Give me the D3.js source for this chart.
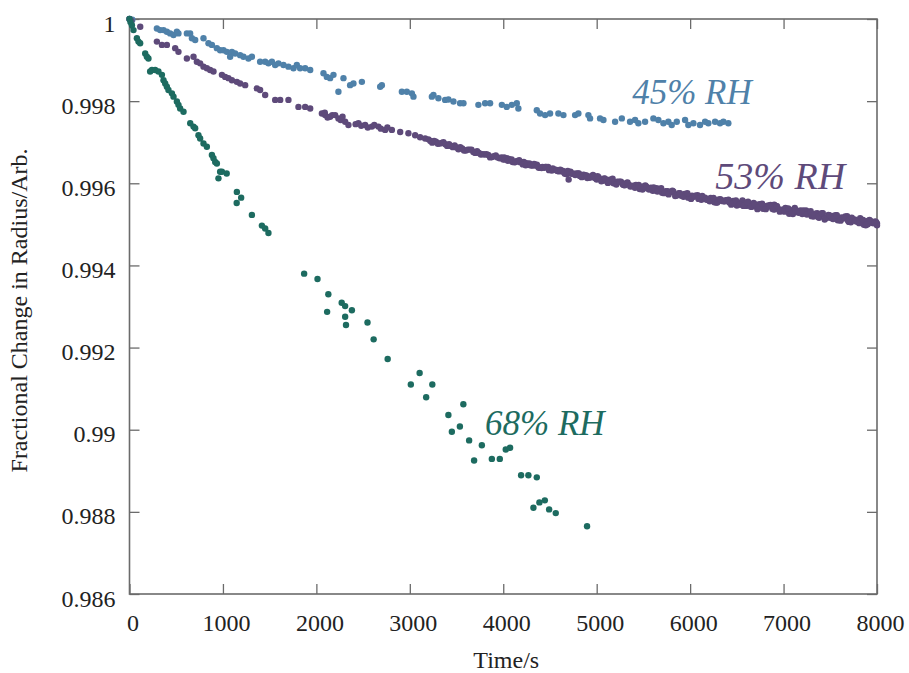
<!DOCTYPE html>
<html>
<head>
<meta charset="utf-8">
<script src="https://cdn.jsdelivr.net/npm/d3@7"></script>
<style>
  html, body { margin: 0; padding: 0; background: #fff; }
  svg { display: block; }
  svg text { font-family: "Liberation Serif", "DejaVu Serif", "Times New Roman", serif; }
</style>
</head>
<body>
<svg id="chart" width="909" height="673"></svg>
<script>
// Axis ticks
const xTicks = [0, 1000, 2000, 3000, 4000, 5000, 6000, 7000, 8000];
const xTickLabels = ["0", "1000", "2000", "3000", "4000", "5000", "6000", "7000", "8000"];
const yTicks = [0.986, 0.988, 0.99, 0.992, 0.994, 0.996, 0.998, 1];
const yTickLabels = ["0.986", "0.988", "0.99", "0.992", "0.994", "0.996", "0.998", "1"];

// Series labels
const seriesNames = ["45% RH", "53% RH", "68% RH"];

// 45% RH : [time (s), fractional radius]
const rh45 = [
  [0,1.0],[30,0.99998],[293,0.99977],[328,0.99973],[364,0.99973],[400,0.99969],[435,0.99965],
  [471,0.99961],[507,0.99969],[524,0.99965],[614,0.99965],[649,0.99965],[668,0.99953],[703,0.99949],
  [792,0.99953],[845,0.99941],[882,0.99937],[935,0.99929],[970,0.99924],[1006,0.99924],[1042,0.9992],
  [1077,0.99908],[1096,0.9992],[1131,0.99916],[1184,0.99912],[1220,0.99908],[1273,0.99904],[1310,0.99908],
  [1398,0.99896],[1452,0.99896],[1487,0.99892],[1524,0.99896],[1559,0.99888],[1594,0.99892],[1648,0.99888],
  [1701,0.99884],[1755,0.9988],[1791,0.99888],[1826,0.9988],[1880,0.9988],[1934,0.99876],[2076,0.99868],
  [2112,0.99859],[2147,0.99856],[2183,0.99864],[2236,0.99823],[2290,0.99856],[2361,0.99839],[2397,0.99843],
  [2487,0.99847],[2683,0.99835],[2701,0.99839],[2915,0.99823],[2968,0.99823],[3022,0.99819],[3039,0.99811],
  [3236,0.99811],[3253,0.99815],[3306,0.99807],[3378,0.99803],[3413,0.99804],[3467,0.99799],[3538,0.99795],
  [3574,0.99795],[3734,0.99791],[3806,0.99795],[3859,0.99795],[3985,0.99791],[4038,0.99786],[4092,0.99791],
  [4145,0.99795],[4162,0.99782],[4359,0.99778],[4394,0.9977],[4448,0.99766],[4501,0.9977],[4590,0.9977],
  [4644,0.99766],[4769,0.99766],[4804,0.9977],[4911,0.99766],[4929,0.99758],[5036,0.99758],[5072,0.99754],
  [5197,0.9975],[5269,0.99758],[5357,0.9975],[5411,0.99754],[5446,0.99746],[5518,0.9975],[5607,0.99758],
  [5660,0.99754],[5714,0.99746],[5767,0.9975],[5803,0.99742],[5857,0.9975],[5946,0.99754],[5981,0.99742],
  [6035,0.99746],[6106,0.99742],[6160,0.9975],[6195,0.99746],[6267,0.9975],[6320,0.99746],[6356,0.9975],
  [6409,0.99746]
];

// 53% RH
const rh53 = [
  [0,1.0],[20,0.99995],[115,0.99981],[293,0.99945],[347,0.99937],[400,0.99937],[489,0.99929],[524,0.9992],
  [614,0.99904],[685,0.99908],[721,0.99896],[756,0.99892],[792,0.99884],[828,0.9988],[863,0.99876],
  [899,0.99872],[989,0.99864],[1024,0.99859],[1059,0.99856],[1096,0.99851],[1149,0.99847],[1184,0.99843],
  [1238,0.99839],[1363,0.99831],[1398,0.99827],[1452,0.99815],[1559,0.99803],[1613,0.99803],[1701,0.99803],
  [1808,0.99786],[1880,0.99786],[1934,0.99782],[2059,0.9977],[2090,0.99772],[2094,0.99766],[2120,0.9976],
  [2147,0.99762],[2170,0.99766],[2201,0.99766],[2236,0.99758],[2260,0.99754],[2280,0.99762],[2308,0.9975],
  [2343,0.99742],[2420,0.99744],[2450,0.99746],[2480,0.9974],[2522,0.99742],[2550,0.99736],[2594,0.99738],
  [2620,0.99742],[2664,0.99738],[2690,0.99733],[2736,0.9973],[2760,0.99736],[2808,0.9973],[2897,0.99725],
  [2985,0.99722],[3057,0.99717],[3110,0.99712],[3164,0.99709],
  [3200,0.99707],[3240,0.99699],[3280,0.99701],[3320,0.99697],[3360,0.997],[3400,0.99691],[3440,0.99691],
  [3480,0.99692],[3520,0.99683],[3560,0.99685],[3600,0.9968],[3640,0.99682],[3680,0.99676],[3720,0.99678],
  [3760,0.9967],[3800,0.9967],[3840,0.99669],[3880,0.99664],[3920,0.99668],[3960,0.99661],
  [4000,0.99658],[4040,0.99661],[4080,0.99656],[4120,0.99651],[4160,0.99654],[4200,0.99651],[4240,0.99644],
  [4280,0.99648],[4320,0.99643],[4360,0.99645],[4400,0.99638],[4440,0.99638],[4480,0.9964],[4520,0.99631],
  [4560,0.99633],[4600,0.99629],[4640,0.9963],[4680,0.99622],[4700,0.99609],[4720,0.99628],[4760,0.99623],
  [4800,0.99624],[4840,0.99615],[4880,0.99619],[4920,0.99614],[4960,0.9962],[5000,0.99609],[5040,0.9961],
  [5080,0.99612],[5120,0.99601],[5160,0.99607],[5200,0.996],[5240,0.99604],[5280,0.99597],[5320,0.99601],
  [5360,0.99592],[5400,0.99594],[5440,0.99594],[5480,0.99588],[5520,0.99595],[5560,0.99585],
  [5600,0.99582],[5640,0.99588],[5680,0.99582],[5720,0.99576],[5760,0.99581],[5800,0.99579],[5840,0.99569],
  [5880,0.99576],[5920,0.99569],[5960,0.99574],[6000,0.99565],[6040,0.99567],[6080,0.99571],[6120,0.9956],
  [6160,0.99565],[6200,0.99559],[6240,0.99563],[6280,0.99553],[6320,0.99561],[6360,0.99556],
  [6400,0.99559],[6440,0.99548],[6480,0.99554],[6520,0.99549],[6560,0.99558],[6600,0.99545],[6640,0.99548],
  [6680,0.99552],[6720,0.99537],[6760,0.99546],[6800,0.99539],[6840,0.99546],[6880,0.99538],[6900,0.99548],
  [6920,0.99545],[6960,0.99531],[7000,0.99536],[7040,0.99537],[7080,0.99529],[7100,0.99525],[7120,0.9954],
  [7160,0.99528],[7200,0.99525],[7240,0.99534],[7280,0.99526],[7320,0.99519],[7360,0.99527],[7380,0.99516],
  [7400,0.99524],[7440,0.99512],[7480,0.99523],[7520,0.99515],[7560,0.99522],[7600,0.99511],[7640,0.99514],
  [7680,0.9952],[7700,0.99506],[7720,0.99505],[7760,0.99512],[7800,0.99506],[7820,0.99515],[7840,0.99511],
  [7880,0.99498],[7900,0.995],[7920,0.99511],[7960,0.99503],[7990,0.99506],[8000,0.99502],[8000,0.99498],
  [3220,0.99703],[3260,0.99703],[3300,0.99696],[3340,0.99698],[3380,0.99695],[3420,0.99695],[3460,0.99688],
  [3500,0.99687],[3540,0.99688],[3580,0.9968],[3620,0.99682],[3660,0.99682],[3700,0.99674],[3740,0.99674],
  [3780,0.99671],[3820,0.99671],[3860,0.99663],[3900,0.99666],[3940,0.99663],[3980,0.99663],
  [4020,0.99658],[4060,0.99659],[4100,0.99652],[4140,0.99654],[4180,0.99651],[4220,0.99652],[4260,0.99645],
  [4300,0.99644],[4340,0.99645],[4380,0.99638],[4420,0.9964],[4460,0.9964],[4500,0.99633],[4540,0.99633],
  [4580,0.9963],[4620,0.99631],[4660,0.99623],[4700,0.99627],[4740,0.99624],[4780,0.99624],
  [4820,0.99618],[4860,0.99621],[4900,0.99613],[4940,0.99617],[4980,0.99613],[5020,0.99615],[5060,0.99606],
  [5100,0.99606],[5140,0.99609],[5180,0.996],[5220,0.99604],[5260,0.99604],[5300,0.99595],[5340,0.99597],
  [5380,0.99593],[5420,0.99596],[5460,0.99586],[5500,0.99592],[5540,0.99588],[5580,0.99589],
  [5620,0.99583],[5660,0.99586],[5700,0.99577],[5740,0.99581],[5780,0.99578],[5820,0.9958],[5860,0.99571],
  [5900,0.9957],[5940,0.99574],[5980,0.99565],[6020,0.9957],[6060,0.9957],[6100,0.99562],[6140,0.99564],
  [6180,0.9956],[6220,0.99564],[6260,0.99554],[6300,0.9956],[6340,0.99557],[6380,0.99559],
  [6420,0.99553],[6460,0.99557],[6500,0.99546],[6540,0.99553],[6580,0.9955],[6620,0.99555],[6660,0.99543],
  [6700,0.99544],[6740,0.99549],[6780,0.99538],[6820,0.99545],[6860,0.99547],[6900,0.99536],[6940,0.99538],
  [6980,0.99535],[7020,0.9954],[7060,0.99526],[7100,0.99535],[7140,0.99531],[7180,0.99534],
  [7220,0.99527],[7260,0.99531],[7300,0.9952],[7340,0.99526],[7380,0.99523],[7420,0.99527],[7460,0.99516],
  [7500,0.99516],[7540,0.99521],[7580,0.9951],[7620,0.99517],[7660,0.99519],[7700,0.99508],[7740,0.99511],
  [7780,0.99507],[7820,0.99512],[7860,0.99499],[7900,0.99508],[7940,0.99504],[7980,0.99507],
  [4010,0.99663],[4050,0.99655],[4090,0.99658],[4130,0.99652],[4170,0.99656],[4210,0.99646],[4250,0.99649],
  [4290,0.99644],[4330,0.99647],[4370,0.99641],[4410,0.99637],[4450,0.9964],[4490,0.99632],[4530,0.99636],
  [4570,0.99632],[4610,0.99633],[4650,0.99626],[4690,0.9963],[4730,0.99623],[4770,0.9962],[4810,0.99624],
  [4850,0.99616],[4890,0.99619],[4930,0.99614],[4970,0.99618],
  [5010,0.99617],[5050,0.99605],[5090,0.99611],[5130,0.99603],[5170,0.99611],[5210,0.99597],[5250,0.99603],
  [5290,0.99596],[5330,0.99602],[5370,0.99594],[5410,0.99589],[5450,0.99596],[5490,0.99585],[5530,0.99592],
  [5570,0.99587],[5610,0.9959],[5650,0.9958],[5690,0.99588],[5730,0.99577],[5770,0.99573],[5810,0.99582],
  [5850,0.9957],[5890,0.99576],[5930,0.99567],[5970,0.99576],[6010,0.99562],[6050,0.99569],[6090,0.99562],
  [6130,0.99569],[6170,0.99561],[6210,0.99556],[6250,0.99564],[6290,0.99553],[6330,0.9956],[6370,0.99556],
  [6410,0.9956],[6450,0.9955],[6490,0.99558],[6530,0.99548],[6570,0.99545],[6610,0.99554],[6650,0.99543],
  [6690,0.99549],[6730,0.99541],[6770,0.9955],[6810,0.99537],[6850,0.99544],[6890,0.99537],[6930,0.99544],
  [6970,0.99535],[7010,0.99531],[7050,0.99539],[7090,0.99527],[7130,0.99535],[7170,0.9953],[7210,0.99534],
  [7250,0.99524],[7290,0.99532],[7330,0.99522],[7370,0.99518],[7410,0.99527],[7450,0.99515],[7490,0.99522],
  [7530,0.99513],[7570,0.99522],[7610,0.99509],[7650,0.99516],[7690,0.99509],[7730,0.99516],[7770,0.99508],
  [7810,0.99503],[7850,0.99511],[7890,0.995],[7930,0.99508],[7970,0.99503]
];

// 68% RH
const rh68 = [
  [0,1.0],[10,0.99993],[26,0.99985],[43,0.99973],[79,0.99953],[96,0.99945],[114,0.99941],[168,0.99916],
  [186,0.99908],[203,0.99904],[221,0.99872],[240,0.99876],[275,0.99876],[310,0.99872],[347,0.99864],
  [364,0.99851],[382,0.99843],[400,0.99835],[417,0.99827],[454,0.99819],[471,0.99811],[507,0.99799],
  [524,0.99791],[542,0.99782],[578,0.99774],[650,0.99746],[685,0.99738],[703,0.99734],[738,0.99717],
  [756,0.99709],[792,0.99697],[828,0.99689],[882,0.99669],[899,0.99661],[917,0.99652],[935,0.99648],
  [970,0.99628],[989,0.99628],[1040,0.99624],[952,0.99612],[1149,0.99579],[1195,0.99565],[1147,0.99552],
  [1310,0.99523],[1417,0.99497],[1452,0.9949],[1487,0.99479],
  [1869,0.9938],[2012,0.99367],[2128,0.9933],[2115,0.99287],[2271,0.99309],[2308,0.99301],[2380,0.99291],
  [2308,0.99275],[2317,0.99255],[2547,0.99261],[2613,0.9922],[2763,0.99172],[3105,0.99138],[3011,0.9911],
  [3241,0.9911],[3175,0.99079],[3573,0.99062],[3413,0.99036],[3536,0.99008],[3450,0.98995],[3635,0.98974],
  [3771,0.98962],[3688,0.98925],[3878,0.98929],[3963,0.98929],[4027,0.98952],[4073,0.98956],[4191,0.98889],
  [4269,0.98889],[4359,0.98884],[4323,0.9881],[4387,0.98823],[4445,0.98828],[4491,0.98806],[4562,0.98797],
  [4897,0.98765]
];

const colors = { rh45: "#4f81a9", rh53: "#5e4a7a", rh68: "#1d6b60" };
const serifFont = '"Liberation Serif", "DejaVu Serif", serif';

const svg = d3.select("#chart");
const W = 909, H = 673;
const margin = { left: 129.5, top: 19, right: 32, bottom: 79 };
const plotW = W - margin.left - margin.right;
const plotH = H - margin.top - margin.bottom;

const x = d3.scaleLinear().domain([0, 8000]).range([0, plotW]);
const y = d3.scaleLinear().domain([0.986, 1]).range([plotH, 0]);

const g = svg.append("g").attr("transform", `translate(${margin.left},${margin.top})`);

const axisColor = "#6b6b6b";
const tickLen = 10;

function styleAxis(sel) {
  sel.attr("font-family", serifFont).attr("font-size", 24);
  sel.select(".domain").remove();
  sel.selectAll(".tick line").attr("stroke", axisColor).attr("stroke-width", 1.3);
  sel.selectAll(".tick text").attr("fill", "#222");
}

// bottom axis (ticks point inward)
g.append("g").attr("transform", `translate(0,${plotH})`)
  .call(d3.axisBottom(x).tickValues(xTicks).tickSizeInner(-tickLen).tickSizeOuter(0)
    .tickPadding(14).tickFormat((d, i) => xTickLabels[i]))
  .call(styleAxis)
  .call(s => s.selectAll(".tick text").attr("dx", 3).attr("dy", "0.95em"));

// top axis
g.append("g")
  .call(d3.axisTop(x).tickValues(xTicks).tickSizeInner(-tickLen).tickSizeOuter(0).tickFormat(""))
  .call(styleAxis);

// left axis
g.append("g")
  .call(d3.axisLeft(y).tickValues(yTicks).tickSizeInner(-tickLen).tickSizeOuter(0)
    .tickPadding(14).tickFormat((d, i) => yTickLabels[i]))
  .call(styleAxis)
  .call(s => s.selectAll(".tick text").attr("dy", "0.5em"));

// right axis
g.append("g").attr("transform", `translate(${plotW},0)`)
  .call(d3.axisRight(y).tickValues(yTicks).tickSizeInner(-tickLen).tickSizeOuter(0).tickFormat(""))
  .call(styleAxis);

// frame
g.append("rect")
  .attr("width", plotW).attr("height", plotH)
  .attr("fill", "none").attr("stroke", axisColor).attr("stroke-width", 1.6);

// scatter series
const series = [
  { data: rh45, color: colors.rh45 },
  { data: rh53, color: colors.rh53 },
  { data: rh68, color: colors.rh68 }
];
series.forEach(s => {
  g.append("g").selectAll("circle").data(s.data).join("circle")
    .attr("cx", d => x(d[0]))
    .attr("cy", d => y(d[1]))
    .attr("r", 3.2)
    .attr("fill", s.color);
});

// series labels
const labelStyle = (sel, size, color) => sel
  .attr("fill", color)
  .attr("font-family", serifFont)
  .attr("font-style", "italic")
  .attr("font-size", size);

g.append("text").attr("x", x(5380)).attr("y", y(0.99793)).text(seriesNames[0]).call(labelStyle, 35, colors.rh45);
g.append("text").attr("x", x(6270)).attr("y", y(0.99587)).text(seriesNames[1]).call(labelStyle, 38, colors.rh53);
g.append("text").attr("x", x(3805)).attr("y", y(0.98988)).text(seriesNames[2]).call(labelStyle, 35, colors.rh68);

// axis titles
svg.append("text")
  .attr("x", margin.left + plotW / 2 + 3).attr("y", 668)
  .attr("text-anchor", "middle").attr("fill", "#222")
  .attr("font-family", serifFont).attr("font-size", 24)
  .text("Time/s");

svg.append("text")
  .attr("transform", `translate(27,${margin.top + plotH / 2 + 4}) rotate(-90)`)
  .attr("text-anchor", "middle").attr("fill", "#222")
  .attr("font-family", serifFont).attr("font-size", 24)
  .text("Fractional Change in Radius/Arb.");
</script>
</body>
</html>
